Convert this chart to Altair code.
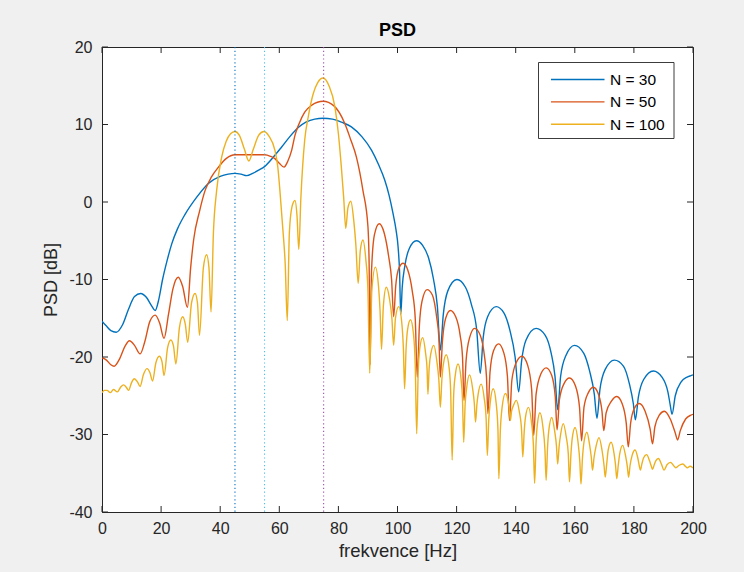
import altair as alt
import pandas as pd

# ---------------- data ----------------
series_names = ["N = 30", "N = 50", "N = 100"]
series_colors = ["#0072BD", "#D95319", "#EDB120"]

freq_n30 = [0, 1.5, 3, 4.8, 7, 9, 11, 13.1, 15, 16.8, 18, 19.2, 20.5, 22, 23.6, 25.5, 28.1, 32, 36, 40,
            42.7, 45, 47, 49, 51, 53, 55.1, 58, 60.8, 63.5, 66.4, 69, 72, 74.8, 78, 81, 84.4, 88, 91.2, 93.5,
            95.7, 97.2, 98.5, 99.5, 100.2, 100.7, 101.1, 101.6, 102.5, 104, 106.4, 108.5, 110.5, 112.2, 113.5,
            114.5, 115.5, 117, 120.1, 123, 125, 126.8, 128, 129, 130.5, 133.4, 136, 138, 139.8, 141, 142,
            143.5, 146.9, 150, 152, 153.3, 154.2, 155.2, 157, 159.9, 163, 165, 166.6, 167.5, 168.5, 170.3,
            173.4, 176.5, 178.5, 179.8, 180.5, 181.5, 183.3, 186.6, 189.5, 191.5, 192.3, 192.9, 194, 196,
            198, 199.3, 200]
psd_n30 = [-15.4, -16.0, -16.6, -16.8, -15.8, -13.8, -12.2, -11.8, -12.3, -13.4, -14.0, -12.6, -10.0, -7.6,
           -5.4, -3.5, -1.6, 0.6, 2.4, 3.3, 3.6, 3.7, 3.6, 3.4, 3.7, 4.1, 4.6, 5.8, 7.1, 8.4, 9.6, 10.3, 10.7,
           10.8, 10.7, 10.3, 9.7, 8.4, 6.7, 4.9, 2.8, 0.8, -1.5, -3.6, -5.8, -9.0, -14.5, -11.0, -8.2, -6.0,
           -5.0, -5.6, -7.2, -10.0, -13.5, -19.1, -14.5, -11.5, -10.0, -11.0, -13.2, -16.5, -22.1, -17.5,
           -14.8, -13.5, -14.3, -16.5, -20.0, -24.5, -20.5, -17.8, -16.3, -17.2, -19.5, -22.5, -26.8, -22.5,
           -19.8, -18.5, -19.5, -21.8, -24.8, -27.9, -24.2, -21.6, -20.4, -21.2, -23.5, -26.0, -28.1, -25.2,
           -22.9, -21.8, -22.6, -24.5, -26.2, -27.4, -25.0, -23.2, -22.6, -22.4, -22.3]

freq_n50 = [0, 1.5, 3, 4.1, 6, 7.8, 9.3, 11, 12.9, 14.5, 16.2, 18, 19.5, 21, 22.5, 24, 25.8, 27.3, 28.9, 30,
            31, 33, 34.9, 37, 39.4, 42, 45, 49.5, 52, 55.1, 57, 58.5, 60, 61.6, 62.8, 64.2, 65.3, 66.8, 68.6,
            71, 74.8, 78.5, 82.2, 84.2, 86.1, 88.3, 90, 90.4, 90.7, 91.2, 92.2, 93.8, 95.5, 97, 98, 98.7,
            99.4, 100.5, 101.9, 103.5, 105, 106, 106.7, 107.4, 108.3, 110, 111.8, 113.3, 114, 114.5, 115.2,
            116.3, 117.9, 119.7, 121.2, 122, 122.5, 123.2, 124.4, 126.1, 128, 129.4, 130.1, 130.6, 131.3,
            132.5, 134.2, 136, 137.2, 137.9, 138.7, 140.2, 142.1, 144, 145.4, 146.1, 146.9, 148.5, 150.3,
            152.2, 153.4, 154, 154.8, 156.4, 158.2, 160.2, 161.6, 162.3, 163.1, 164.6, 166.3, 168, 169.2,
            169.8, 170.6, 172.4, 174.2, 176, 177.4, 178.1, 178.9, 180.2, 181.8, 183.8, 185.5, 186.3, 187.1,
            188.6, 190.3, 192.3, 194, 194.8, 195.7, 197.5, 199.3, 200]
psd_n50 = [-20.1, -20.4, -21.0, -21.2, -20.2, -18.6, -17.9, -18.5, -19.6, -18.0, -15.4, -14.6, -15.6, -17.6,
           -14.5, -11.2, -9.7, -10.9, -13.6, -8.5, -4.9, -1.2, 1.5, 3.2, 4.5, 5.6, 6.1, 6.1, 6.1, 6.1, 5.9,
           5.6, 5.0, 4.5, 5.2, 6.7, 8.6, 10.2, 11.6, 12.5, 13.0, 12.4, 10.1, 8.0, 5.8, 1.5, -3.2, -8.0, -21.0,
           -9.0, -4.2, -2.8, -4.0, -7.0, -10.0, -14.8, -10.8, -8.5, -7.9, -8.8, -11.5, -15.0, -22.6, -16.0,
           -12.8, -11.3, -12.0, -15.0, -17.5, -22.6, -18.0, -15.0, -14.0, -14.8, -17.2, -20.0, -25.6, -20.5,
           -17.5, -16.3, -17.2, -19.8, -22.5, -27.3, -22.0, -19.2, -18.3, -19.5, -22.5, -28.2, -23.0, -20.7,
           -19.9, -21.0, -24.2, -30.1, -24.8, -22.2, -21.4, -22.4, -25.2, -29.4, -25.5, -23.4, -22.7, -23.7,
           -26.5, -30.8, -26.5, -24.6, -23.9, -24.8, -27.0, -29.5, -27.2, -25.7, -25.1, -26.0, -28.5, -31.6,
           -28.5, -26.6, -26.0, -27.0, -29.3, -31.2, -29.0, -27.5, -27.0, -28.0, -29.8, -30.7, -29.5, -28.0,
           -27.5, -27.4]

freq_n100 = [0, 0.8, 1.7, 2.8, 3.9, 5.2, 6.3, 7.3, 8.2, 9, 10, 10.9, 12, 12.9, 14, 15.2, 16.2, 17.1, 18.2,
             19.4, 20.3, 21, 22.2, 23.3, 24.2, 25, 26.2, 27.3, 28.2, 29, 30.3, 31.5, 32.3, 33, 34.3, 35.4,
             36.2, 36.9, 37.7, 38.8, 40.5, 42, 43.5, 45, 46.5, 48.2, 49.7, 51.2, 53, 54.8, 56.5, 58.5, 59.5,
             60.2, 61.2, 62, 62.7, 63.4, 64.3, 65.3, 66, 66.6, 67.3, 68.6, 69.8, 71.5, 73, 74.8, 76.8, 78.8,
             80, 81, 81.8, 82.5, 83.2, 84.2, 85.2, 85.9, 86.7, 87.4, 88.3, 89.3, 90, 90.6, 91.3, 92.5, 93.6,
             94.1, 94.6, 95.2, 96.2, 97.3, 98.1, 98.7, 99.3, 100.4, 101.5, 102, 102.4, 102.9, 103.4, 104.4,
             105.4, 106, 106.5, 107, 107.5, 108.5, 109.5, 110, 110.3, 110.7, 111.3, 112.3, 113.3, 114, 114.5,
             115, 115.5, 116.5, 117.5, 118, 118.5, 119, 119.5, 120.5, 121.5, 122, 122.4, 122.9, 123.4, 124.4,
             125.4, 126, 126.4, 126.9, 127.3, 128.3, 129.3, 130, 130.4, 130.9, 131.4, 132.4, 133.4, 134,
             134.3, 134.8, 135.4, 136.5, 137.5, 137.9, 138.2, 138.6, 139.2, 140.2, 141.2, 142, 142.4, 142.9,
             143.3, 144.3, 145.3, 146, 146.4, 146.9, 147.3, 148.2, 149.2, 149.9, 150.3, 150.8, 151.2, 152.2,
             153.2, 153.8, 154.2, 154.7, 155.2, 156.1, 157.1, 157.8, 158.2, 158.7, 159.1, 160.1, 161.1, 161.7,
             162.1, 162.6, 163.1, 164.1, 165, 165.6, 166, 166.5, 167.2, 168.2, 169.2, 169.9, 170.3, 170.8,
             171.3, 172.3, 173.3, 173.8, 174.2, 174.7, 175.2, 176.2, 177.2, 177.8, 178.2, 178.7, 179.4, 180.4,
             181.3, 181.8, 182.2, 182.7, 183.3, 184.3, 185.3, 185.9, 186.3, 186.8, 187.4, 188.3, 189.3, 190.2,
             191.2, 192.4, 193.4, 194.2, 195.2, 196.6, 197.4, 198.1, 199, 200]
psd_n100 = [-24.6, -24.3, -24.3, -24.6, -24.2, -24.5, -23.9, -23.6, -23.9, -24.3, -23.3, -22.8, -23.2, -23.8,
            -22.3, -21.5, -22.0, -23.1, -20.8, -19.9, -20.6, -22.4, -18.8, -17.8, -18.6, -20.9, -16.2, -14.8,
            -15.8, -18.1, -13.0, -11.8, -13.0, -17.2, -8.5, -6.8, -8.5, -14.2, -4.0, 1.5, 5.8, 7.8, 8.8, 9.1,
            8.6, 6.8, 5.3, 6.8, 8.6, 9.1, 8.5, 6.7, 4.5, 1.5, -3.5, -8.0, -15.3, -4.0, -0.6, 0.2, -1.8, -6.1,
            0.5, 8.0, 11.0, 14.0, 15.4, 16.0, 15.0, 12.3, 8.8, 4.5, 0.5, -3.4, -0.8, 0.1, -2.4, -5.5, -10.5,
            -6.3, -4.9, -7.5, -11.5, -22.1, -11.5, -8.4, -11.0, -14.0, -19.0, -13.5, -11.0, -12.5, -15.0,
            -18.5, -15.0, -13.5, -15.8, -19.0, -24.1, -19.0, -16.5, -15.2, -17.0, -21.0, -29.9, -22.0, -19.0,
            -17.5, -19.5, -21.5, -24.8, -21.5, -19.5, -18.5, -20.5, -23.0, -26.5, -23.0, -21.0, -19.7, -21.5,
            -24.5, -33.3, -25.0, -22.5, -20.9, -22.8, -25.5, -31.0, -26.0, -24.0, -22.3, -24.0, -26.0, -28.4,
            -26.0, -24.8, -23.5, -25.2, -28.0, -32.7, -28.0, -25.8, -24.1, -26.0, -29.5, -35.7, -29.5, -26.5,
            -24.7, -25.8, -27.0, -28.2, -27.0, -26.3, -25.6, -27.0, -29.5, -32.9, -29.5, -27.8, -26.5, -28.3,
            -31.5, -36.3, -31.0, -28.8, -27.2, -29.0, -32.0, -35.9, -31.5, -29.5, -27.8, -29.6, -31.5, -33.8,
            -31.5, -30.0, -28.6, -30.3, -32.5, -36.1, -32.5, -30.6, -29.1, -31.0, -33.5, -36.4, -33.0, -31.0,
            -29.7, -31.3, -33.0, -34.6, -33.0, -31.5, -30.4, -32.0, -34.0, -35.5, -33.8, -32.0, -31.0, -32.5,
            -34.0, -35.7, -34.0, -32.5, -31.4, -32.8, -34.2, -35.5, -34.0, -32.7, -32.0, -33.0, -34.0, -34.6,
            -33.8, -33.0, -32.6, -33.4, -34.1, -34.5, -34.0, -33.4, -33.1, -33.8, -34.6, -33.9, -33.6, -34.0,
            -34.3, -34.0, -33.8, -34.1, -34.3, -34.1, -34.3]

marker_freqs = [45, 55, 75]
marker_colors = ["#0072BD", "#4DBEEE", "#9E4FAE"]

x_ticks = [0, 20, 40, 60, 80, 100, 120, 140, 160, 180, 200]
y_ticks = [-40, -30, -20, -10, 0, 10, 20]

title_text = "PSD"
x_title = "frekvence [Hz]"
y_title = "PSD [dB]"

# ---------------- chart ----------------
W, H = 591, 465
FONT = "Liberation Sans"
AX = "#262626"
TICK = 6

xs = alt.Scale(domain=[0, 200], nice=False, zero=False)
ys = alt.Scale(domain=[-40, 20], nice=False, zero=False)
ax_x = alt.Axis(title=x_title, values=x_ticks, ticks=False, tickSize=0, grid=False,
                labelPadding=8, titlePadding=5, labelFontSize=16, titleFontSize=18.5,
                titleFontWeight="normal", labelFont=FONT, titleFont=FONT, domainColor=AX,
                labelColor=AX, titleColor=AX, labelFlush=False,
                labelExpr="toString(datum.value)")
ax_y = alt.Axis(title=y_title, values=y_ticks, ticks=False, tickSize=0, grid=False,
                labelPadding=10, titlePadding=8, labelFontSize=16, titleFontSize=18,
                titleFontWeight="normal", labelFont=FONT, titleFont=FONT, domainColor=AX,
                labelColor=AX, titleColor=AX, labelFlush=False,
                labelExpr="toString(datum.value)")

layers = []
curves = [(freq_n30, psd_n30), (freq_n50, psd_n50), (freq_n100, psd_n100)]
for (fr, ps), name, col in zip(curves, series_names, series_colors):
    df = pd.DataFrame({"f": fr, "p": ps, "series": name})
    layers.append(
        alt.Chart(df).mark_line(color=col, strokeWidth=1.4, interpolate="monotone", clip=True)
        .encode(x=alt.X("f:Q", scale=xs, axis=ax_x), y=alt.Y("p:Q", scale=ys, axis=ax_y))
    )

for fq, col in zip(marker_freqs, marker_colors):
    df = pd.DataFrame({"f": [fq]})
    layers.append(
        alt.Chart(df).mark_rule(color=col, strokeWidth=1.1, strokeDash=[1.2, 2.6])
        .encode(x=alt.X("f:Q", scale=xs, axis=ax_x), y=alt.value(0), y2=alt.value(H))
    )

# inward ticks on all four sides (MATLAB box style)
xt = pd.DataFrame({"f": x_ticks})
yt = pd.DataFrame({"p": y_ticks})
layers.append(alt.Chart(xt).mark_rule(color=AX, strokeWidth=1)
              .encode(x=alt.X("f:Q", scale=xs, axis=ax_x), y=alt.value(H), y2=alt.value(H - TICK)))
layers.append(alt.Chart(xt).mark_rule(color=AX, strokeWidth=1)
              .encode(x=alt.X("f:Q", scale=xs, axis=ax_x), y=alt.value(0), y2=alt.value(TICK)))
layers.append(alt.Chart(yt).mark_rule(color=AX, strokeWidth=1)
              .encode(y=alt.Y("p:Q", scale=ys, axis=ax_y), x=alt.value(0), x2=alt.value(TICK)))
layers.append(alt.Chart(yt).mark_rule(color=AX, strokeWidth=1)
              .encode(y=alt.Y("p:Q", scale=ys, axis=ax_y), x=alt.value(W), x2=alt.value(W - TICK)))

base = alt.Chart(pd.DataFrame({"k": [0]}))

# title above the axes
layers.append(base.mark_text(align="center", baseline="middle", font=FONT, fontSize=18,
                             fontWeight="bold", color="#000000")
              .encode(x=alt.value(W / 2), y=alt.value(-16.5), text=alt.value(title_text)))

# legend box (top-right, inside the axes)
LX0, LX1, LY0, LY1 = 436.5, 572, 15.5, 91.5
layers.append(base.mark_rect(fill="white", stroke=AX, strokeWidth=0.9)
              .encode(x=alt.value(LX0), x2=alt.value(LX1), y=alt.value(LY0), y2=alt.value(LY1)))
for i, (name, col) in enumerate(zip(series_names, series_colors)):
    yy = 32.5 + 22.4 * i
    layers.append(base.mark_rule(color=col, strokeWidth=1.4)
                  .encode(x=alt.value(449), x2=alt.value(502.5), y=alt.value(yy)))
    layers.append(base.mark_text(align="left", baseline="middle", font=FONT, fontSize=15.5, color="#000000")
                  .encode(x=alt.value(508), y=alt.value(yy + 0.5), text=alt.value(name)))

chart = alt.layer(*layers).properties(
    width=W, height=H,
    autosize=alt.AutoSizeParams(type="none"),
    padding={"left": 102, "top": 47, "right": 51, "bottom": 60},
    background="#f0f0f0",
).configure_view(fill="white", stroke=AX, strokeWidth=1)

chart.save("out.html", embed_options={"renderer": "svg", "actions": False})
